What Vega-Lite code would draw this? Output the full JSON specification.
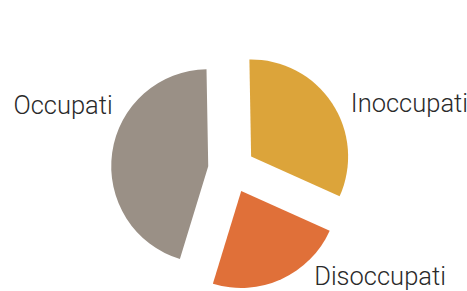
{
  "$schema": "https://vega.github.io/schema/vega-lite/v6.json",
  "width": 463,
  "height": 243,
  "autosize": {"type": "none"},
  "padding": {"top": 48, "left": 0, "right": 4, "bottom": 0},
  "background": "white",
  "view": {"stroke": null},
  "data": {
    "values": [
      {"cat": "Inoccupati", "value": 32},
      {"cat": "Disoccupati", "value": 23},
      {"cat": "Occupati", "value": 45}
    ]
  },
  "encoding": {
    "theta": {"field": "value", "type": "quantitative", "stack": true, "scale": {"range": [3.438, 9.7212]}},
    "order": {"field": "cat", "sort": "descending"},
    "color": {
      "field": "cat",
      "type": "nominal",
      "scale": {"domain": ["Inoccupati", "Disoccupati", "Occupati"], "range": ["#DCA43A", "#E07039", "#9A9086"]},
      "legend": null
    }
  },
  "layer": [
    {
      "mark": {
        "type": "arc",
        "outerRadius": 97,
        "xOffset": {"expr": "23.5*sin((scale('theta', datum.value_start)+scale('theta', datum.value_end))/2)"},
        "yOffset": {"expr": "-23.5*cos((scale('theta', datum.value_start)+scale('theta', datum.value_end))/2)"}
      }
    },
    {
      "mark": {
        "type": "text",
        "radius": 125,
        "font": "Roboto",
        "fontWeight": 300,
        "fontSize": 25.5,
        "baseline": "alphabetic",
        "align": {"expr": "datum.cat === 'Occupati' ? 'right' : 'left'"},
        "dx": {"expr": "datum.cat === 'Occupati' ? 5 : datum.cat === 'Inoccupati' ? 15 : 31"},
        "dy": {"expr": "datum.cat === 'Occupati' ? -38 : datum.cat === 'Inoccupati' ? 11 : 2"}
      },
      "encoding": {
        "text": {"field": "cat"},
        "color": {"value": "#2a2a2a"}
      }
    }
  ]
}
